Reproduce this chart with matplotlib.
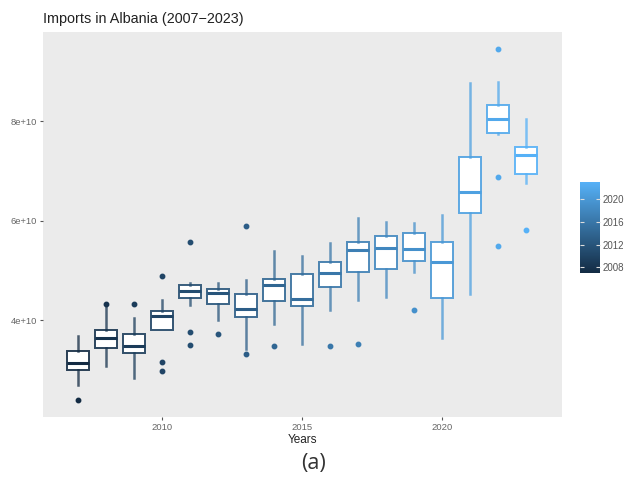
import numpy as np
import matplotlib
matplotlib.use("Agg")
from matplotlib import pyplot as plt
from matplotlib.colors import LinearSegmentedColormap, Normalize

# box statistics, in units of 1e10
years = [2007, 2008, 2009, 2010, 2011, 2012, 2013, 2014, 2015,
         2016, 2017, 2018, 2019, 2020, 2021, 2022, 2023]
whislo = [2.71, 3.09, 2.84, 3.80, 4.31, 4.01, 3.43, 3.93, 3.53,
          4.21, 4.41, 4.48, 4.98, 3.65, 4.53, 7.75, 6.76]
q1 = [3.01, 3.44, 3.35, 3.80, 4.46, 4.33, 4.06, 4.39, 4.29,
      4.67, 4.97, 5.03, 5.20, 4.45, 6.16, 7.76, 6.93]
med = [3.14, 3.65, 3.49, 4.08, 4.60, 4.56, 4.23, 4.72, 4.43,
       4.96, 5.41, 5.46, 5.43, 5.18, 6.57, 8.04, 7.32]
q3 = [3.39, 3.80, 3.72, 4.20, 4.71, 4.64, 4.53, 4.83, 4.93,
      5.17, 5.58, 5.70, 5.76, 5.58, 7.28, 8.33, 7.49]
whishi = [3.68, 4.29, 4.04, 4.41, 4.76, 4.76, 4.81, 5.39, 5.29,
          5.56, 6.06, 5.98, 5.95, 6.12, 8.77, 8.78, 8.04]
fliers = [[2.40], [4.33], [4.33], [4.90, 3.17, 2.98], [5.57, 3.76, 3.51],
          [3.72], [5.90, 3.33], [3.49], [],
          [3.49], [3.52], [], [4.21], [], [], [9.45, 6.87, 5.49], [5.82]]

cbar_ticks = [2008, 2012, 2016, 2020]

cmap = LinearSegmentedColormap.from_list("gg", ["#132B43", "#56B1F7"])
norm = Normalize(vmin=min(years), vmax=max(years))

fig = plt.figure(figsize=(6.28, 4.82), dpi=100)
ax = fig.add_axes([0.0685, 0.1349, 0.8265, 0.7987])
ax.set_facecolor("#EBEBEB")

for i, yr in enumerate(years):
    col = cmap(norm(yr))
    edge = (col[0], col[1], col[2], 0.9)
    whisk = (col[0], col[1], col[2], 0.75)
    stats = [{"med": med[i] * 1e10, "q1": q1[i] * 1e10, "q3": q3[i] * 1e10,
              "whislo": whislo[i] * 1e10, "whishi": whishi[i] * 1e10,
              "fliers": np.array(fliers[i]) * 1e10}]
    ax.bxp(stats, positions=[yr], widths=0.78, showcaps=False, patch_artist=True,
           boxprops=dict(facecolor="white", edgecolor=edge, linewidth=1.4),
           medianprops=dict(color=col, linewidth=2.2),
           whiskerprops=dict(color=whisk, linewidth=1.8),
           flierprops=dict(marker="o", markerfacecolor=col, markeredgecolor=col,
                           markersize=3.2, linestyle="none"))

ax.set_xlim(2005.76, 2024.3)
ax.set_ylim(2.064e10, 9.787e10)
ax.set_xticks([2010, 2015, 2020])
ax.set_xticklabels(["2010", "2015", "2020"])
ax.set_yticks([4e10, 6e10, 8e10])
ax.set_yticklabels(["4e+10", "6e+10", "8e+10"])
for s in ax.spines.values():
    s.set_visible(False)
ax.tick_params(length=2.5, width=0.8, color="#555555", labelcolor="#666666",
               labelsize=6.8, pad=2)
ax.set_xlabel("Years", fontsize=8.5, family="Liberation Sans", labelpad=1,
              color="#222222")
for lab in ax.get_xticklabels() + ax.get_yticklabels():
    lab.set_family("Liberation Sans")

fig.text(0.0685, 0.953, "Imports in Albania (2007\u22122023)", fontsize=10.4,
         family="Liberation Sans", color="#222222", va="baseline")

# colour bar
cax = fig.add_axes([0.923, 0.4336, 0.0318, 0.1888])
sm = plt.cm.ScalarMappable(norm=norm, cmap=cmap)
cb = fig.colorbar(sm, cax=cax, ticks=cbar_ticks)
cb.outline.set_visible(False)
cax.tick_params(direction="in", length=3, width=0.8, color="#dddddd",
                labelcolor="#555555", labelsize=7, left=True, pad=2)
for lab in cax.get_yticklabels():
    lab.set_family("Liberation Sans")

fig.text(0.5, 0.038, "(a)", fontsize=15.5, family="Open Sans", color="#333333",
         ha="center", va="center")

fig.savefig("out.png", dpi=100)
